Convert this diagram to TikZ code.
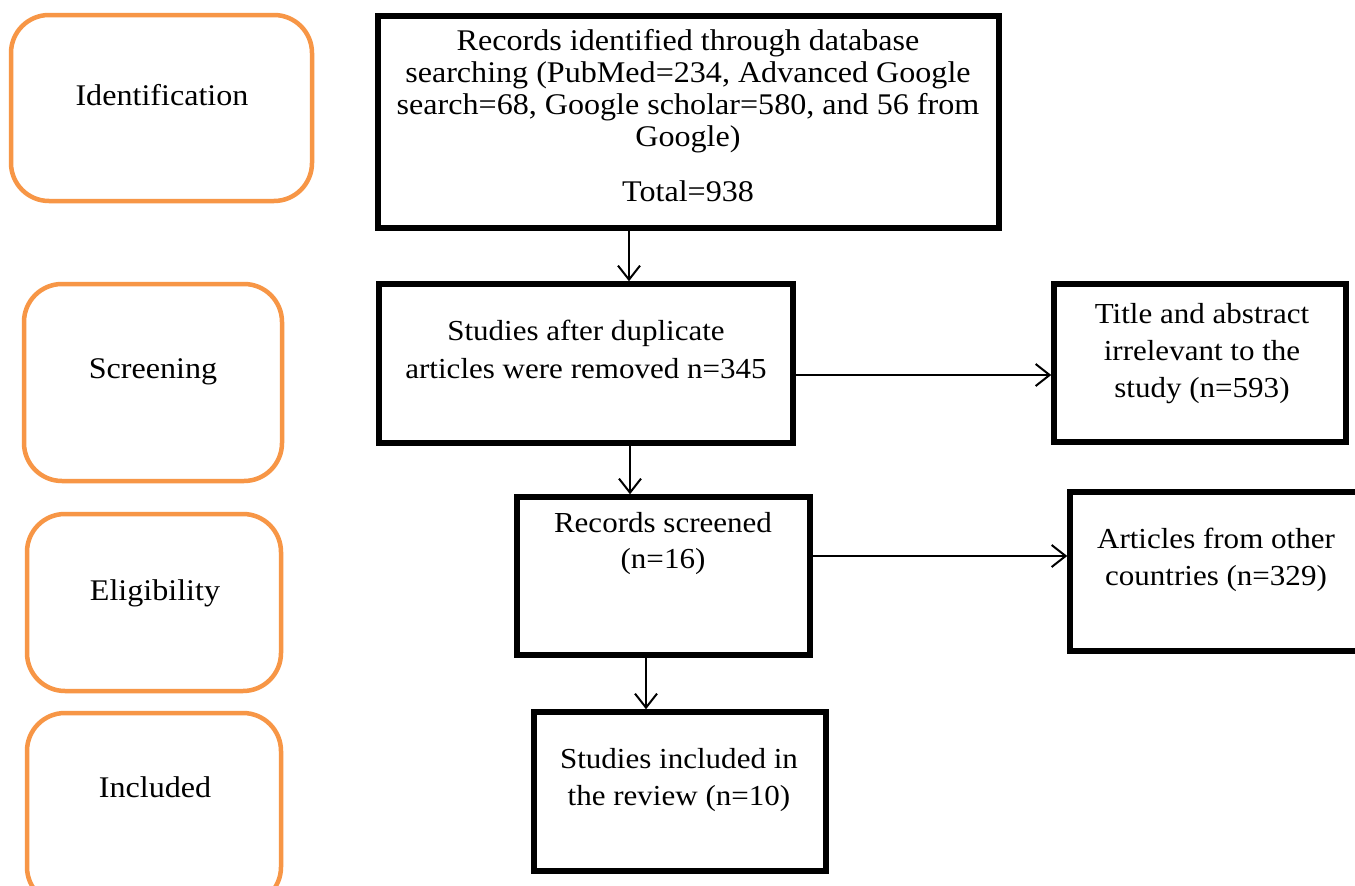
\documentclass[tikz,border=0pt]{standalone}
\usepackage{fontspec}
\setmainfont{Liberation Serif}[FakeStretch=1.07]
\usetikzlibrary{arrows.meta,calc}
\definecolor{phase}{HTML}{F79646}
\tikzset{
  phasebox/.style={draw=phase, line width=4.5pt, rounded corners=38pt, inner sep=0pt},
  stepbox/.style={draw=black, line width=5.5pt, inner sep=0pt},
  lbl/.style={anchor=base, inner sep=0pt, font=\fontsize{30}{32}\selectfont},
  lbls/.style={anchor=base, inner sep=0pt, font=\fontsize{29}{32}\selectfont},
  arr/.style={line width=2pt, -{Straight Barb[length=14pt,width=22pt,line width=2pt]}},
}
\begin{document}
\begin{tikzpicture}[x=1pt,y=-1pt]
\useasboundingbox (0,0) rectangle (1355,886);
\clip (0,0) rectangle (1355,886);
\fill[white] (0,0) rectangle (1355,886);

% phase boxes
\node[phasebox, minimum width=301pt, minimum height=186pt] (P1) at (161.5,108) {};
\node[phasebox, minimum width=258pt, minimum height=197pt] (P2) at (153,382.5) {};
\node[phasebox, minimum width=254pt, minimum height=177pt] (P3) at (154,602.5) {};
\node[phasebox, minimum width=254pt, minimum height=192pt] (P4) at (154,809) {};
\node[lbl] (t1) at (162,105) {Identification};
\node[lbl] (t2) at (153,378) {Screening};
\node[lbl] (t3) at (155,600) {Eligibility};
\node[lbl] (t4) at (155,797) {Included};

% step boxes
\node[stepbox, minimum width=621pt, minimum height=212pt] (A) at (688.5,122) {};
\node[stepbox, minimum width=414pt, minimum height=159pt] (B) at (586,363.5) {};
\node[stepbox, minimum width=292pt, minimum height=158pt] (C) at (1200,363) {};
\node[stepbox, minimum width=293pt, minimum height=158pt] (D) at (663.5,576) {};
\node[stepbox, minimum width=320pt, minimum height=159pt] (E) at (1230,571.5) {};
\node[stepbox, minimum width=292pt, minimum height=159pt] (F) at (680,791.5) {};

\node[lbl] (a1) at (688,50.7) {Records identified through database};
\node[lbl] (a2) at (688,82.7) {searching (PubMed=234, Advanced Google};
\node[lbl] (a3) at (688,114.5) {search=68, Google scholar=580, and 56 from};
\node[lbl] (a4) at (688,146.7) {Google)};
\node[lbl] (a5) at (688,201.7) {Total=938};

\node[lbls] (b1) at (586,340) {Studies after duplicate};
\node[lbls] (b2) at (586,378) {articles were removed n=345};

\node[lbls] (c1) at (1202,323) {Title and abstract};
\node[lbls] (c2) at (1202,360) {irrelevant to the};
\node[lbls] (c3) at (1202,397) {study (n=593)};

\node[lbls] (d1) at (663,532) {Records screened};
\node[lbls] (d2) at (663,568) {(n=16)};

\node[lbls] (e1) at (1216,548) {Articles from other};
\node[lbls] (e2) at (1216,585) {countries (n=329)};

\node[lbls] (f1) at (679,768) {Studies included in};
\node[lbls] (f2) at (679,805) {the review (n=10)};

% connectors
\coordinate (ab) at ($(A.south)+(-59.5,0)$);
\draw[arr] (ab) -- (ab |- B.north);
\coordinate (bd) at ($(B.south)+(44,0)$);
\draw[arr] (bd) -- (bd |- D.north);
\coordinate (df) at ($(D.south)+(-17.5,0)$);
\draw[arr] (df) -- (df |- F.north);
\coordinate (bc) at ($(B.east)+(0,11.5)$);
\draw[arr] (bc) -- (bc -| C.west);
\coordinate (de) at ($(D.east)+(0,-20)$);
\draw[arr] (de) -- (de -| E.west);
\end{tikzpicture}
\end{document}
